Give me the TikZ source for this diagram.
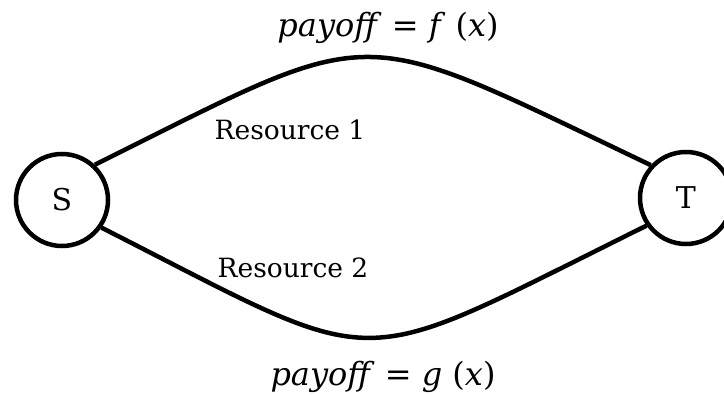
\documentclass[tikz,border=0pt]{standalone}
\usepackage{fontspec}
\newfontfamily\labfont{DejaVu Serif}
\begin{document}
\begin{tikzpicture}[x=1pt,y=-1pt,
  vertex/.style={circle,draw,line width=4.5pt,minimum size=92pt,inner sep=0pt,font=\labfont\fontsize{30}{36}\selectfont},
  edge/.style={line width=4.5pt},
  res/.style={font=\labfont\fontsize{26.5}{30}\selectfont,inner sep=0pt},
  pay/.style={font=\labfont\fontsize{32}{38}\selectfont,inner sep=0pt}]
\useasboundingbox (0,0) rectangle (724,395);
\node[vertex] (S) at (62,200) {S};
\node[vertex] (T) at (686,198) {T};
\draw[edge] (S.47) .. controls (384,21) and (348,21) .. (T.137);
\draw[edge] (S.-35) .. controls (392,375) and (344,375) .. (T.215);
\node[pay] (pf) at (388,28) {\textit{payoff} = \textit{f} (\textit{x})};
\node[pay] (pg) at (383,377) {\textit{payoff} = \textit{g} (\textit{x})};
\node[res] (r1) at (290,130) {Resource 1};
\node[res] (r2) at (293,268) {Resource 2};
\end{tikzpicture}
\end{document}
